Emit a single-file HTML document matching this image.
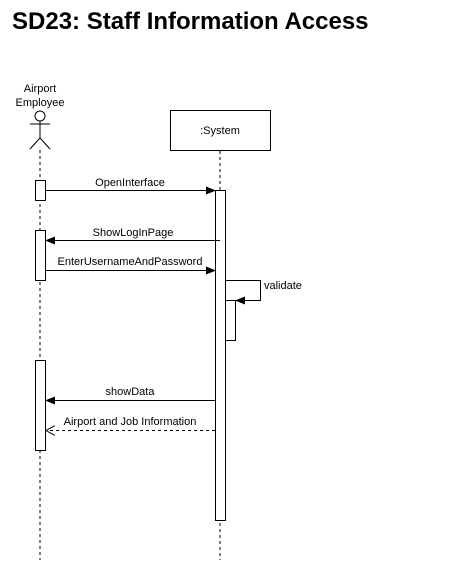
<!DOCTYPE html>
<html><head><style>body{margin:0;background:#fff}</style></head><body>
<svg width="460" height="561" xmlns="http://www.w3.org/2000/svg" font-family="Liberation Sans, sans-serif">
<defs>
<marker id="a" markerWidth="10" markerHeight="8" refX="9" refY="4" orient="auto" markerUnits="userSpaceOnUse"><path d="M0,0L10,4L0,8z" fill="#000"/></marker>
<marker id="o" markerWidth="10" markerHeight="10" refX="9" refY="5" orient="auto" markerUnits="userSpaceOnUse"><path d="M0,0L9,5L0,10" fill="none" stroke="#000"/></marker>
</defs>
<text x="12" y="29" font-size="24" font-weight="bold">SD23: Staff Information Access</text>
<text x="40" y="92" font-size="11" text-anchor="middle">Airport</text>
<text x="40" y="106" font-size="11" text-anchor="middle">Employee</text>
<g stroke="#000" fill="none">
<circle cx="40" cy="116" r="5" fill="#fff"/>
<line x1="40" y1="121" x2="40" y2="138"/><line x1="30" y1="124" x2="50" y2="124"/>
<line x1="40" y1="138" x2="30" y2="149"/><line x1="40" y1="138" x2="50" y2="149"/>
<line x1="40" y1="150" x2="40" y2="560" stroke-dasharray="3,3"/>
<rect x="170.5" y="110.5" width="100" height="40" fill="#fff"/>
<line x1="220" y1="151" x2="220" y2="560" stroke-dasharray="3,3"/>
<rect x="35.5" y="180.5" width="10" height="20" fill="#fff"/>
<rect x="35.5" y="230.5" width="10" height="50" fill="#fff"/>
<rect x="35.5" y="360.5" width="10" height="90" fill="#fff"/>
<rect x="215.5" y="190.5" width="10" height="330" fill="#fff"/>
<rect x="225.5" y="300.5" width="10" height="40" fill="#fff"/>
<line x1="46" y1="190.5" x2="215" y2="190.5" marker-end="url(#a)"/>
<line x1="220" y1="240.5" x2="46" y2="240.5" marker-end="url(#a)"/>
<line x1="46" y1="270.5" x2="215" y2="270.5" marker-end="url(#a)"/>
<polyline points="226,280.5 260.5,280.5 260.5,300.5 236,300.5" marker-end="url(#a)"/>
<line x1="215" y1="400.5" x2="46" y2="400.5" marker-end="url(#a)"/>
<line x1="215" y1="430.5" x2="46" y2="430.5" stroke-dasharray="3,3" marker-end="url(#o)"/>
</g>
<g font-size="11" text-anchor="middle">
<text x="220" y="134">:System</text>
<text x="130" y="186">OpenInterface</text>
<text x="133" y="236">ShowLogInPage</text>
<text x="130" y="265">EnterUsernameAndPassword</text>
<text x="130" y="395">showData</text>
<text x="130" y="425">Airport and Job Information</text>
<text x="264" y="289" text-anchor="start">validate</text>
</g>
</svg>
</body></html>
